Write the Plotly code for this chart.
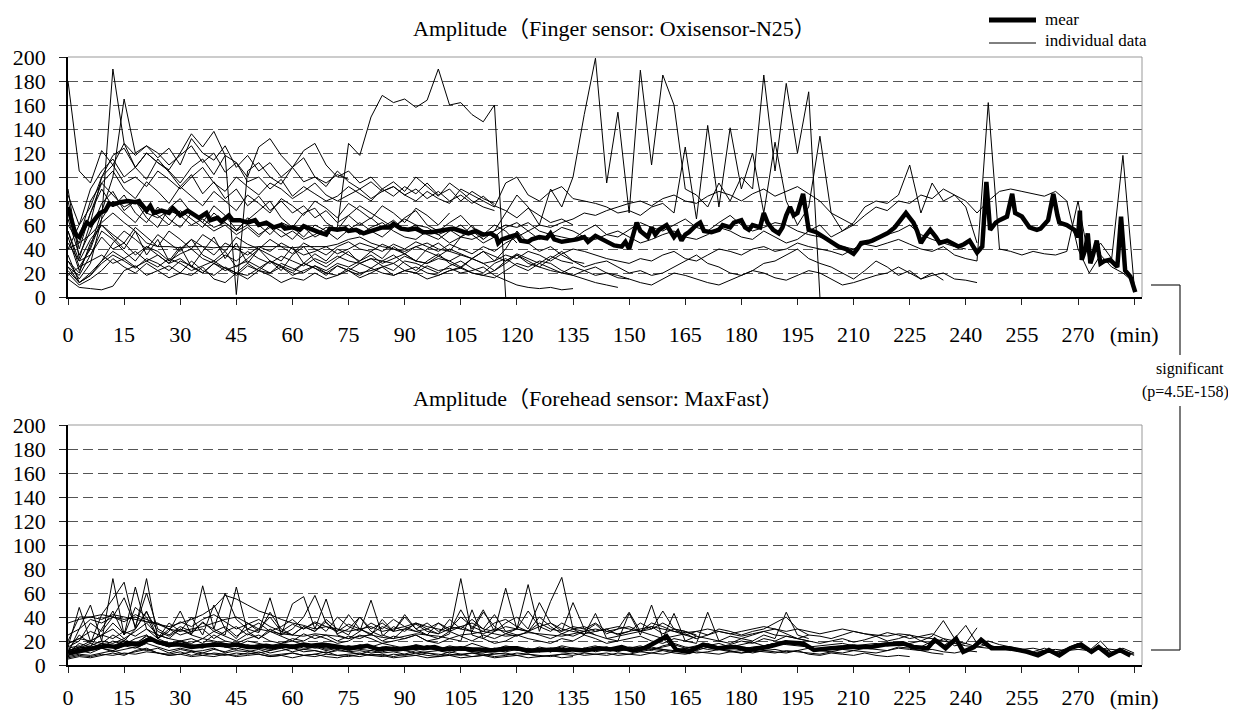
import plotly.graph_objects as go

# ---------------- data ----------------
STEP = 3  # minutes between samples of the individual traces

x_tick_vals = [0, 15, 30, 45, 60, 75, 90, 105, 120, 135, 150, 165, 180, 195, 210, 225, 240, 255, 270, 285]
x_tick_text = ["0", "15", "30", "45", "60", "75", "90", "105", "120", "135", "150", "165", "180",
               "195", "210", "225", "240", "255", "270", "(min)"]
y_tick_vals = [0, 20, 40, 60, 80, 100, 120, 140, 160, 180, 200]

# Finger sensor (Oxisensor-N25) individual traces, sampled every STEP minutes from t=0
finger_s01 = [60,45,70,90,75,85,70,62,75,65,58,70,62,55,60,52,58,50,60,55,48,58,50,55,58,128,118,150,168,162,165,158,164,190,160,162,152,146,160,0]
finger_s02 = [180,105,95,122,110,128,118,126,120,110,118,126,112,120,104,112,96,100,90,98,84,92,86,80,84,92,86,80,90,84,92,86,95,85,90,80,88,82,78]
finger_s03 = [30,15,28,65,190,128,108,98,115,104,92,102,86,96,82,90,76,84,72,80,70,76,66,72,62,68,60,66,58,64,56,60,58,52,56,50,55,48]
finger_s04 = [50,22,42,72,100,165,120,126,116,124,110,132,120,114,126,108,118,105,112,100,108,96,100,92,105,96,90,96,88,92,85,90,82,88,80,85,78,84,76,72,66,74,68,62,65,60]
finger_s05 = [90,32,62,100,118,124,108,120,112,106,120,136,125,138,118,112,100,125,132,118,108,122,128,110,100,105,95,100,90,96,88,100,92,84,95,88,80,75,72]
finger_s06 = [20,10,15,22,32,25,20,28,22,26,20,30,22,18,25,20,28,22,20,25,18,22,26,20,18,24,20,22,25,28,22,20,26,22,24,20,22,25,18,14,10,8,7,8,6,7]
finger_s07 = [15,8,7,6,9,22,26,18,22,16,20,18,25,15,12,20,15,22,18,12,16,14,20,15,18,22,16,20,25,18,22,20,15,18,22,25,20,18,16,22,28,25,30,28,22,18,15,12,10,8]
finger_s08 = [40,45,52,62,70,62,55,45,42,42,41,42,42,41,42,42,41,42,42,42,41,42,42,42,44,48,50,45,42,40,38,42,45,40,38,35]
finger_s09 = [70,50,80,95,85,75,80,70,66,72,68,60,65,58,62,55,60,52,58,50,55,48,52,58,55,60,52,58,62,55,50,48,55,52,45,50,48,52,55,60,58,62,55,52,50,48,55,60,52,50,56,62,58,55,60,65,58,55,62,68,60,55,58,62,60,55,52,50,46,42,40,45,48,52,55,60,52,48,45,42,40]
finger_s10 = [30,20,45,60,50,40,55,35,48,30,42,25,38,50,32,45,28,40,35,30,42,28,36,30,40,35,30,38,32,42,36,30,40,45,38,50,60,48,55,70,85,75,60,90,75,100,152,199,95,154,70,189,110,185,160,90,85,75,95,80,100,90,185,105,178,120,171,0]
finger_s11 = [85,60,75,100,110,95,100,92,105,98,90,100,108,95,88,100,92,85,95,90,82,88,95,85,80,85,90,82,88,92,85,80,88,82,78,90,85,80,75,95,100,85,80,88,92,82,80,78,75,70,72,68,75,78,70,125,65,143,75,141,90,120,70,129,80,60,75,134,70,55,60]
finger_s12 = [45,30,35,50,40,45,35,42,38,30,36,40,32,28,35,30,38,32,28,34,30,26,32,28,34,30,28,32,30,28,34,30,28,32,30,35,32,28,30,35,32,38,35,30,36,40,38,35,32,30,28,32,30,35,38,32,30,35,40,38,35,40,42,38,40,45,42,40,38,35,40,44,42,45,48,44,40,38,42,35,32,30,162,40,38,35,38,36,35,38,80,30,45,32,118,10]
finger_s13 = [25,12,18,30,45,55,48,40,52,45,38,48,42,35,45,40,35,42,38,45,40,35,38,42,36,40,45,42,38,44,40,46,42,38,44,40,36,42,38,45,50,55,60,58,62,65,70,68,72,75,78,80,76,82,85,80,78,84,88,85,80,86,90,84,88,92,86,80,70,65,60,68,75,72,80,78,85,82,90,85,80,70,80,88,90,88,86,84,88,80,40,20,35,25,20,12]
finger_s14 = [35,12,20,30,38,32,25,30,35,28,32,25,20,28,22,26,30,25,20,28,24,20,26,22,28,25,30,35,28,32,36,30,28,34,30,25,32,28,22,30,35,28,25,32,38,30,25,28,30,25,20,22,18,20,25,30,35,28,25,20,18,22,28,30,35,40,32,28,25,20,15,22,30,25,18,22,15,20,14]
finger_s15 = [55,25,40,65,80,70,62,75,68,60,72,65,58,70,62,55,66,60,52,62,58,50,60,55,48,56,62,55,50,58,65,60,52,48,55,60,52,45,50,58,62,55,48,52,58,55,50,48,52,55,50,45,48,52,55,50,48,52,58,55,50,48,55,50,45,48,55,60,50,55,62,75,80,78,85,110,70,95,80,85,75,45]
finger_s16 = [18,25,30,35,28,32,38,30,25,32,28,22,26,30,24,20,18,24,30,26,22,28,24,20,26,22,18,24,20,18,22,25,20,18,22,24,20,18,22,28,35,30,25,22,20,18,22,25,20,18,15,12,10,15,20,18,15,12,10,14,18,22,20,16,14,18,22,20,15,10,12,15,18,20,25,20,15,18,20,15,14,12]
finger_s17 = [65,35,55,78,88,72,80,66,58,74,82,70,62,76,68,56,64,72,80,66,58,70,74,62,56,68,76,70,64,58,66,72,60,55,62,68,58,52,60,55,45]
finger_s18 = [25,18,35,55,48,38,30,42,35,28,40,48,35,30,38,25,32,40,30,22,35,42,30,25,32,38,28,24,30,35,28,22,30,36,28,24,32,38,30,40,55,45,38,42,35,30,28]
finger_s19 = [40,60,90,105,115,100,108,120,112,105,95,108,115,102,118,2,105,112,100,94,108,116,100,95,102,98]
finger_s20 = [55,30,48,60,52,45,58,50,42,55,48,40,52,46,38,50,44,40,48,42,36,45,40,35,42,46,40,38,44,40,36,42,38,34,40,36,32,38,34,30,36,32,28,34,30,28]
finger_s21 = [80,40,70,95,105,90,82,96,88,78,92,84,76,88,80,72,85,78,70,82,76,68,80,74,66,78,72,65,76,70,62,74,68,60,70]
finger_s22 = [22,12,18,28,35,30,24,32,28,22,30,26,20,28,24,18,26,22,30,25,20,28,24,18,26,22,28,32,26,22,30,28,24,20,26,30,24,20,28,32,26,22,28,24,20,25,22,18,20,16,15]

finger_mean_t = [0,1,2,3,4,5,6,7,8.5,10,
                 11,12,14,16,18,19,21,22,23,25,
                 27,28,30,32,33,35,37,38,40,41,
                 43,44,46,48,50,51,53,55,57,58,
                 60,62,63,65,67,69,70,72,74,75,
                 77,79,81,84,86,87,89,91,93,95,
                 97,99,101,103,105,107,109,111,113,114.5,
                 115,116,118,120,121,123,124,126,128,129,
                 130,132,134,136,138,139,141,143,145,146,
                 148,149,150,151,152,153,155,156,157,158,
                 160,161,162,163,164,165,166,168,169,170,
                 172,174,175,177,178,180,181,182,183,185,
                 186,187,188.5,190,191,192,193,194,195,196.5,
                 197.5,198,200,201,203,204,205,206,208,210,
                 211,212,214,215,217,219,221,222.5,224,225,
                 226,227,228,229,230.5,232,233,235,236,238,
                 239.5,241,242,243,244.4,245.5,246.5,248,249,251,
                 252.4,253.2,255,256,257,259,260,262,263.4,264.5,
                 265,267,268,269,270,270.5,271,272,272.6,273.3,
                 274,275,276,277,278.6,279.5,280.5,281.5,282.6,284,
                 285.3]
finger_mean_v = [75,62,52,50,56,62,60,64,70,72,
                 78,77,79,80,79,80,72,76,70,72,
                 70,74,68,72,70,66,70,64,66,63,
                 68,64,64,62,64,60,62,58,60,57,
                 58,56,59,56,54,52,57,56,57,55,
                 56,53,55,58,58,61,57,56,57,54,
                 54,55,56,57,55,53,55,52,53,50,
                 45,48,50,52,47,46,48,50,49,53,
                 48,46,47,48,50,46,51,48,45,43,
                 42,46,40,53,62,55,50,58,52,56,
                 60,55,50,54,47,52,54,60,62,55,
                 54,56,60,58,62,64,58,56,60,58,
                 70,62,56,53,58,68,75,68,70,86,
                 65,56,54,52,48,47,44,42,40,36,
                 40,45,46,47,50,53,58,64,70,66,
                 62,55,45,50,56,50,45,47,45,42,
                 44,47,42,37,42,96,56,62,64,67,
                 86,70,67,62,58,56,57,64,86,68,
                 62,60,58,56,50,72,31,40,53,28,
                 35,47,28,30,31,28,25,67,22,17,
                 4]

# Forehead sensor (MaxFast) individual traces, sampled every STEP minutes from t=0
forehead_s01 = [10,14,18,15,20,17,22,25,18,16,20,17,15,19,16,18,15,17,14,16,15,18,16,14,15,13,16,14,12,15,14,13,16,14,12,15,13,12,14,12,15,13,11,14,12,13,11,14,15,13,12,14,18,22,14,12,15,16,14,15,13,15,16,18,20,18,14,13,15,16,17,15,17,18,19,16,15,20,16,22,12,19,15,14,13,11,9,12,9,13,16,11,15,9,12,8]
forehead_s02 = [8,12,10,14,11,13,15,12,14,10,13,11,12,14,10,12,11,13,10,12,14,11,12,10,13,11,12,10,11,13,12,10,11,12,10,13,11,10,12,11,13,10,12,11,13,12,14,13,15,12,14,16,13,15,17,14,16,18,15,17,20,18,22,20,24,22,20,18,20,22,19,21,24,20,22,25,20,24,37,22,33,18,20,17,15,13,11,14,10,14,18,12,20,10,14,10]
forehead_s03 = [15,48,20,25,30,22,28,35,25,22,30,25,22,28,24,20,26,22,28,24,20,26,22,25,20,24,22,26,20,24,22,25,20,22,28,24,20,25,22,26,24,28,25,22,26,24,28,25,22,24,26,28,25,22,24,26,22,25,28,26,24,26,28,25,24,22,25,24,22,25,28,26,24,27,25,22,24,26,22,20,18,31]
forehead_s04 = [10,30,50,20,72,25,65,30,22,28,45,25,66,30,25,65,28,22,30,25,51,57,30,55,25,22,28,54,25,22,30,28,25,22,26,72,25,22,28,64,30,67,28,53,73,30,25,43,22,20,43,25,50,22,43,20,18,44,20,18,22,20,25,22,44,25,22]
forehead_s05 = [20,40,40,38,42,40,38,36,34,32,35,38,42,48,58,55,50,45,42,38,35,33,30,32,30,28,30,32,28,30,32,35,32,30,28,32,35,30,28,32,30,28,32,35,30,28,26,28,30,32,30,28,35,32,28,25,22]
forehead_s06 = [12,25,18,42,55,69,30,45,22,35,28,40,25,50,30,22,35,28,56,25,30,40,58,35,28,42,30,25,38,28,40,30,25,35,28,46,30,46,28,35,40,30,52,35,28,52,30,25]
forehead_s07 = [8,10,12,14,12,16,14,18,15,12,14,12,10,13,11,14,12,10,12,14,11,13,12,10,12,11,9,12,10,11,9,12,10,8,11,9,10,8,10,9,8]
forehead_s08 = [6,8,7,9,8,10,9,11,10,8,9,7,8,10,9,7,8,9,7,8,10,8,7,9,8,7,9,8,7,9,8,10,8,7,9,8,10,9,7,8,10,9,8,7,9,8,10,9,8,10,9,8,10,12,10,9,11,10,9,11,10,12,11,10,12,11,10,9,11,10,12,11,10,12,14,13,12,10,9]
forehead_s09 = [15,20,35,28,40,56,32,60,30,25,32,28,35,30,60,38,30,35,28,32,38,30,35,28,40,32,28,35,30,38,32,28,30,35,30,40,32,28,35,38,32,28,35,30,28,32,30,35,28,30,32,28,30,35,30,28,25]
forehead_s10 = [35,38,40,42,40,38,40,36,35,30,28,30,32,35,38,40,35,30,28,26,25,24,26,25,24,22,24,25,23,22,24,26,25,24,22,25,26,28,26,24,25,27,26,25,24,26,28,30,28,26,28,30,32,30,28,27,28,30,28,26,28,30,32,30,28,30,28,26,28,30,28,26,25,24,26,25,23,22,20,18,16,15,14,15,14,13,14,12,13,12,13,12,14,13,12]
forehead_s11 = [12,15,20,18,25,20,30,72,22,18,20,22,18,25,20,18,22,25,20,18,22,20,25,22,18,20,25,22,18,20,22,25,20,18,22,20,46,22,18,20,25,22,20,18,22,20,25,22,18,20,22,24,20,18,22,20,24,22,20,24,22,25,28,30,26,22,20]
forehead_s12 = [5,7,6,8,10,8,12,14,10,8,9,11,8,7,9,8,10,9,7,8,6,8,9,7,6,8,7,9,8,6,7,8,6,7,8,6,7,8,6,7,8,6,7,8,6,7]
forehead_s13 = [18,22,20,25,22,28,24,30,25,22,20,18,22,20,18,16,20,18,16,18,20,17,15,18,16,14,17,15,18,16,14,17,15,13,16,14,18,15,13,16,14,12,15,13,16,14,12,15,13,11,14,12,15,13,11,14,12,15,13,11,12,10,12,11,10,12,9,8,10,9,8,10,8,7,8,7]
forehead_s14 = [10,18,15,30,45,25,48,40,22,30,25,28,30,22,28,32,25,30,40,28,25,32,28,38,30,25,40,30,35,28,42,30,35,28,32,30,38,30,42,28,30,45,32,28,35,30,32,28,30,25,28,35,30,45,30,25,28,25,30,28,25,28,30,35,40,30,25]
forehead_s15 = [14,16,12,18,15,20,17,22,18,15,17,14,16,18,15,17,14,16,13,15,17,14,16,13,15,12,14,16,13,15,12,14,16,13,15,12,14,11,13,15,12,14,11,13,15,12,14,11,13,12,14,11,13,12]
forehead_s16 = [12,14,16,20,18,22,16,25,18,15,20,16,14,18,15,13,17,14,12,16,14,13,15,12,14,16,13,12,15,14,12,13,15,12,14,13,11,14,12,13,15,12,14,11,13,12,14,16,13,12,15,14,12,16,18,15,14,16,18,15,17,19,16,18,20,17,15]
forehead_s17 = [7,9,8,10,12,9,11,13,10,9,11,8,10,9,8,10,9,11,8,9,10,8,9,11,8,9,10,8,9,7,9,8,10,9,8,9,7,8,9,10,8,9,7,8,9,10,8,9,10,8,9,11,10,9,11,12,10,11,13,12,10,11,12,13,11,12,14,12,11,13,12,14,13,12,15,14,12,13,11,10,12,11]
forehead_s18 = [18,22,28,24,35,26,30,44,28,24,30,26,36,28,32,24,30,27,44,30,25,32,28,36,26,30,40,28,24,32,28,35,30,26,38,30,28,44,32,26,30,28,40,32,26,30,28,34,26,30,44,28,32,26,30,28,24]
forehead_s19 = [12,15,14,18,16,20,18,24,20,17,18,16,15,17,16,18,15,16,14,17,15,16,14,15,13,16,14,15,13,14,15,13,14,12,15,13,12,14,13,12,14,12,13,11,14,12,13,12,14,13,12,15,14,13,12,14,15,13,14,16,15,14,16,18,17,16,15,16,17,18,16,17,18,16,17,18,20,17,22,16,18,15,17,14,12,13,10,12,11,13,15,12,14,11,12,9]
forehead_s20 = [25,30,38,35,40,36,42,38,34,30,36,32,38,42,36,30,34,38,32,28,34,30,36,32,28,34,30,26,32,28,30,34,28,26,30,32,28,26,30,28,25]

forehead_mean_t = [0,3,6,10,13,16,19,21,22,24,
                   27,30,33,36,40,43,45,48,50,53,
                   55,58,60,63,65,68,70,73,75,78,
                   80,83,85,88,90,93,95,98,100,103,
                   105,108,110,113,115,118,120,123,125,128,
                   130,133,135,138,140,142,145,148,151,154,
                   156.5,160,162.6,166,169.8,173.6,178.4,182.2,187,191.8,
                   196.5,199.4,204,209,214.6,218.4,223.2,226,229.8,231.7,
                   234.6,237.4,239.3,242.2,244.1,246.9,251.7,256.4,259.3,262.2,
                   265,267.9,270.8,273.6,275.5,278.3,281.2,284]
forehead_mean_v = [10,12,14,16,15,18,17,20,22,19,
                   17,17,15,16,17,16,17,15,15,16,
                   15,16,15,17,16,17,16,15,14,15,
                   16,13,14,13,14,15,14,15,13,14,
                   14,13,13,12,13,14,14,12,12,13,
                   13,12,13,12,13,14,13,15,12,14,
                   18,24,12.5,11,17,14,15,12.5,15,19,
                   18,12.5,14,15,15,17,18,15,14,21,
                   14,22,11,15,21,14,14,11,8,12.5,
                   8,14,17,11,15,8,12.5,8]

finger_individual = [finger_s01, finger_s02, finger_s03, finger_s04, finger_s05, finger_s06, finger_s07,
                     finger_s08, finger_s09, finger_s10, finger_s11, finger_s12, finger_s13, finger_s14,
                     finger_s15, finger_s16, finger_s17, finger_s18, finger_s19, finger_s20, finger_s21,
                     finger_s22]
forehead_individual = [forehead_s01, forehead_s02, forehead_s03, forehead_s04, forehead_s05,
                       forehead_s06, forehead_s07, forehead_s08, forehead_s09, forehead_s10,
                       forehead_s11, forehead_s12, forehead_s13, forehead_s14, forehead_s15,
                       forehead_s16, forehead_s17, forehead_s18, forehead_s19, forehead_s20]

# ---------------- figure ----------------
PAGE_OFF = 8            # browser body margin around the plot div
W, H = 1236 - PAGE_OFF, 713 - PAGE_OFF
FONT = "Liberation Serif, Times New Roman, Noto Sans CJK JP, serif"


def px(x):
    return (x - PAGE_OFF) / W


def py(y):
    return 1 - (y - PAGE_OFF) / H


fig = go.Figure()

for xa, ya, series, mt, mv in [("x", "y", finger_individual, finger_mean_t, finger_mean_v),
                              ("x2", "y2", forehead_individual, forehead_mean_t, forehead_mean_v)]:
    for s in series:
        fig.add_trace(go.Scatter(x=[STEP * i for i in range(len(s))], y=s, xaxis=xa, yaxis=ya,
                                 mode="lines", line=dict(color="#000000", width=1),
                                 showlegend=False, hoverinfo="skip"))
    fig.add_trace(go.Scatter(x=mt, y=mv, xaxis=xa, yaxis=ya, mode="lines",
                             line=dict(color="#000000", width=4.5),
                             showlegend=False, hoverinfo="skip"))

xaxis_common = dict(range=[0, 287.1], tickvals=x_tick_vals, ticktext=x_tick_text,
                    ticks="outside", ticklen=6, tickwidth=1, tickcolor="#222",
                    showline=True, linecolor="#000", linewidth=1.5, showgrid=False, zeroline=False,
                    tickfont=dict(family=FONT, size=22, color="#000"),
                    automargin=False, fixedrange=True)
yaxis_common = dict(range=[0, 200], tickvals=y_tick_vals, ticks="outside", ticklen=7, tickwidth=1,
                    tickcolor="#222", showline=True, linecolor="#000", linewidth=1.5,
                    showgrid=True, gridcolor="#555", gridwidth=1, griddash="10px,5px", zeroline=False,
                    tickfont=dict(family=FONT, size=22, color="#000"), ticklabelstandoff=9,
                    automargin=False, fixedrange=True)

fig.update_layout(
    width=W, height=H, margin=dict(l=0, r=0, t=0, b=0),
    paper_bgcolor="white", plot_bgcolor="white", showlegend=False,
    xaxis=dict(domain=[px(68), px(1142)], anchor="y", ticklabelstandoff=11, **xaxis_common),
    yaxis=dict(domain=[py(297), py(57)], anchor="x", **yaxis_common),
    xaxis2=dict(domain=[px(68), px(1142)], anchor="y2", ticklabelstandoff=6, **xaxis_common),
    yaxis2=dict(domain=[py(665), py(425)], anchor="x2", **yaxis_common),
)

shapes = []
# light top/right frame of both plot areas
for xr, yr in [("x domain", "y domain"), ("x2 domain", "y2 domain")]:
    shapes.append(dict(type="line", xref=xr, yref=yr, x0=0, x1=1, y0=1, y1=1,
                       line=dict(color="#999", width=1)))
    shapes.append(dict(type="line", xref=xr, yref=yr, x0=1, x1=1, y0=0, y1=1,
                       line=dict(color="#999", width=1)))
# legend samples
shapes.append(dict(type="line", xref="paper", yref="paper", x0=px(989), x1=px(1036), y0=py(20), y1=py(20),
                   line=dict(color="#000", width=5)))
shapes.append(dict(type="line", xref="paper", yref="paper", x0=px(989), x1=px(1036), y0=py(43), y1=py(43),
                   line=dict(color="#000", width=1)))
# significance bracket
br = dict(color="#222", width=1.2)
shapes.append(dict(type="line", xref="paper", yref="paper", x0=px(1151), x1=px(1180), y0=py(285), y1=py(285), line=br))
shapes.append(dict(type="line", xref="paper", yref="paper", x0=px(1180), x1=px(1180), y0=py(285), y1=py(355), line=br))
shapes.append(dict(type="line", xref="paper", yref="paper", x0=px(1180), x1=px(1180), y0=py(406), y1=py(650), line=br))
shapes.append(dict(type="line", xref="paper", yref="paper", x0=px(1151), x1=px(1180), y0=py(650), y1=py(650), line=br))
fig.update_layout(shapes=shapes)

ann = []
ann.append(dict(text="Amplitude（Finger sensor: Oxisensor-N25）", x=px(614), y=py(28), xref="paper", yref="paper",
                showarrow=False, xanchor="center", yanchor="middle", font=dict(family=FONT, size=22, color="#000")))
ann.append(dict(text="Amplitude（Forehead sensor: MaxFast）", x=px(598), y=py(398), xref="paper", yref="paper",
                showarrow=False, xanchor="center", yanchor="middle", font=dict(family=FONT, size=22, color="#000")))
ann.append(dict(text="mear", x=px(1043), y=py(19), xref="paper", yref="paper", showarrow=False,
                xanchor="left", yanchor="middle", font=dict(family=FONT, size=17, color="#000")))
ann.append(dict(text="individual data", x=px(1043), y=py(41), xref="paper", yref="paper", showarrow=False,
                xanchor="left", yanchor="middle", font=dict(family=FONT, size=17, color="#000")))
ann.append(dict(text="significant", x=px(1226), y=py(369), xref="paper", yref="paper", showarrow=False,
                xanchor="right", yanchor="middle", font=dict(family=FONT, size=16, color="#000")))
ann.append(dict(text="(p=4.5E-158)", x=px(1231), y=py(392), xref="paper", yref="paper", showarrow=False,
                xanchor="right", yanchor="middle", font=dict(family=FONT, size=16, color="#000")))
fig.update_layout(annotations=ann)

fig.write_html("out.html")
